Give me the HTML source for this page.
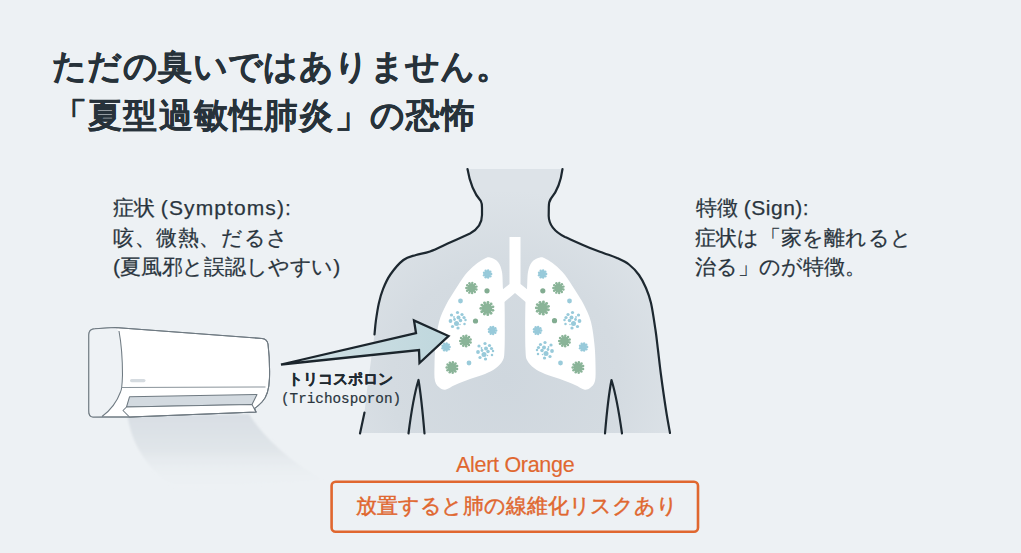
<!DOCTYPE html>
<html><head><meta charset="utf-8">
<style>
html,body{margin:0;padding:0}
body{width:1021px;height:553px;overflow:hidden;position:relative;background:#EDF1F4;font-family:"Liberation Sans",sans-serif;color:#2A353E}
.t{position:absolute;white-space:nowrap;line-height:1}
</style></head><body>
<svg width="1021" height="553" viewBox="0 0 1021 553" style="position:absolute;left:0;top:0">
<defs>
<radialGradient id="bodyg" gradientUnits="userSpaceOnUse" cx="505" cy="380" r="190"><stop offset="0" stop-color="#CFD7DE"/><stop offset="0.6" stop-color="#D4DBE1"/><stop offset="1" stop-color="#DDE3E8"/></radialGradient>
<linearGradient id="arrowg" x1="0" y1="0" x2="1" y2="0">
<stop offset="0" stop-color="#D3E2E6"/><stop offset="1" stop-color="#BFD7DD"/>
</linearGradient>
<linearGradient id="airg" x1="0" y1="0" x2="0" y2="1">
<stop offset="0" stop-color="#D8DEE4"/><stop offset="0.45" stop-color="#E0E5E9"/><stop offset="1" stop-color="#EDF1F4" stop-opacity="0"/>
</linearGradient>
<filter id="blur1" x="-20%" y="-20%" width="140%" height="140%"><feGaussianBlur stdDeviation="1.2"/></filter>
</defs>
<path d="M127.5 416 C132 445 148 472 180 490 L322 480 C292 462 265 440 249 414 Z" fill="url(#airg)" filter="url(#blur1)"/>
<path d="M467.5 169 Q471 190 480.8 201 Q482 203 482 208 L482 215 Q482 227 470 233.5 C466.67 235.00 456.67 239.50 450.00 242.50 C443.33 245.50 435.67 249.42 430.00 251.50 C424.33 253.58 420.43 253.58 416.00 255.00 C411.57 256.42 407.67 256.75 403.40 260.00 C399.13 263.25 393.78 269.68 390.40 274.50 C387.02 279.32 385.03 284.08 383.10 288.90 C381.17 293.72 380.00 298.10 378.80 303.40 C377.60 308.70 376.62 315.52 375.90 320.70 C375.18 325.88 374.73 332.20 374.50 334.50 L367 390 L364.5 412.5 L360 433 L670 433 C669.33 429.17 667.50 419.67 666.00 410.00 C664.50 400.33 662.33 385.00 661.00 375.00 C659.67 365.00 658.92 357.50 658.00 350.00 C657.08 342.50 656.67 337.83 655.50 330.00 C654.33 322.17 652.58 310.00 651.00 303.00 C649.42 296.00 648.00 292.67 646.00 288.00 C644.00 283.33 641.83 278.92 639.00 275.00 C636.17 271.08 632.67 267.33 629.00 264.50 C625.33 261.67 621.17 259.88 617.00 258.00 C612.83 256.12 608.50 254.87 604.00 253.20 C599.50 251.53 596.50 250.70 590.00 248.00 C583.50 245.30 569.17 238.83 565.00 237.00 Q549 229 548.7 216 L548.8 207 Q548.8 201.5 551 198.5 Q560 188 562.5 169 Z" fill="url(#bodyg)"/>
<path d="M509.5 237 L520.5 237 L520.5 284 L528 290 L528 304 L515 293 L502 304 L502 290 L509.5 284 Z" fill="#fff"/>
<path d="M490.00 257.50 C492.33 258.00 496.00 259.58 498.00 262.00 C500.00 264.42 501.17 267.50 502.00 272.00 C502.83 276.50 502.58 284.00 503.00 289.00 C503.42 294.00 504.20 295.17 504.50 302.00 C504.80 308.83 504.80 322.00 504.80 330.00 C504.80 338.00 504.80 345.00 504.50 350.00 C504.20 355.00 504.42 357.00 503.00 360.00 C501.58 363.00 499.00 365.67 496.00 368.00 C493.00 370.33 489.33 372.17 485.00 374.00 C480.67 375.83 475.00 377.17 470.00 379.00 C465.00 380.83 459.00 383.25 455.00 385.00 C451.00 386.75 448.50 389.00 446.00 389.50 C443.50 390.00 441.83 389.42 440.00 388.00 C438.17 386.58 435.92 384.83 435.00 381.00 C434.08 377.17 434.42 371.00 434.50 365.00 C434.58 359.00 434.75 352.17 435.50 345.00 C436.25 337.83 437.25 328.67 439.00 322.00 C440.75 315.33 443.33 310.33 446.00 305.00 C448.67 299.67 451.83 295.00 455.00 290.00 C458.17 285.00 461.67 279.17 465.00 275.00 C468.33 270.83 471.83 267.67 475.00 265.00 C478.17 262.33 481.50 260.25 484.00 259.00 C486.50 257.75 487.67 257.00 490.00 257.50 Z" fill="#fff"/>
<path d="M490.00 257.50 C492.33 258.00 496.00 259.58 498.00 262.00 C500.00 264.42 501.17 267.50 502.00 272.00 C502.83 276.50 502.58 284.00 503.00 289.00 C503.42 294.00 504.20 295.17 504.50 302.00 C504.80 308.83 504.80 322.00 504.80 330.00 C504.80 338.00 504.80 345.00 504.50 350.00 C504.20 355.00 504.42 357.00 503.00 360.00 C501.58 363.00 499.00 365.67 496.00 368.00 C493.00 370.33 489.33 372.17 485.00 374.00 C480.67 375.83 475.00 377.17 470.00 379.00 C465.00 380.83 459.00 383.25 455.00 385.00 C451.00 386.75 448.50 389.00 446.00 389.50 C443.50 390.00 441.83 389.42 440.00 388.00 C438.17 386.58 435.92 384.83 435.00 381.00 C434.08 377.17 434.42 371.00 434.50 365.00 C434.58 359.00 434.75 352.17 435.50 345.00 C436.25 337.83 437.25 328.67 439.00 322.00 C440.75 315.33 443.33 310.33 446.00 305.00 C448.67 299.67 451.83 295.00 455.00 290.00 C458.17 285.00 461.67 279.17 465.00 275.00 C468.33 270.83 471.83 267.67 475.00 265.00 C478.17 262.33 481.50 260.25 484.00 259.00 C486.50 257.75 487.67 257.00 490.00 257.50 Z" fill="#fff" transform="translate(1030 0) scale(-1 1)"/>
<g fill="#98CADA"><circle cx="487.50" cy="274.00" r="3.13"/><line x1="489.80" y1="274.00" x2="491.18" y2="274.00" stroke="#98CADA" stroke-width="1.38"/><circle cx="491.18" cy="274.00" r="1.20"/><line x1="489.26" y1="275.48" x2="490.32" y2="276.37" stroke="#98CADA" stroke-width="1.38"/><circle cx="490.32" cy="276.37" r="1.20"/><line x1="487.90" y1="276.27" x2="488.14" y2="277.62" stroke="#98CADA" stroke-width="1.38"/><circle cx="488.14" cy="277.62" r="1.20"/><line x1="486.35" y1="275.99" x2="485.66" y2="277.19" stroke="#98CADA" stroke-width="1.38"/><circle cx="485.66" cy="277.19" r="1.20"/><line x1="485.34" y1="274.79" x2="484.04" y2="275.26" stroke="#98CADA" stroke-width="1.38"/><circle cx="484.04" cy="275.26" r="1.20"/><line x1="485.34" y1="273.21" x2="484.04" y2="272.74" stroke="#98CADA" stroke-width="1.38"/><circle cx="484.04" cy="272.74" r="1.20"/><line x1="486.35" y1="272.01" x2="485.66" y2="270.81" stroke="#98CADA" stroke-width="1.38"/><circle cx="485.66" cy="270.81" r="1.20"/><line x1="487.90" y1="271.73" x2="488.14" y2="270.38" stroke="#98CADA" stroke-width="1.38"/><circle cx="488.14" cy="270.38" r="1.20"/><line x1="489.26" y1="272.52" x2="490.32" y2="271.63" stroke="#98CADA" stroke-width="1.38"/><circle cx="490.32" cy="271.63" r="1.20"/></g><g fill="#98CADA"><circle cx="492.50" cy="330.50" r="3.13"/><line x1="494.80" y1="330.50" x2="496.18" y2="330.50" stroke="#98CADA" stroke-width="1.38"/><circle cx="496.18" cy="330.50" r="1.20"/><line x1="494.26" y1="331.98" x2="495.32" y2="332.87" stroke="#98CADA" stroke-width="1.38"/><circle cx="495.32" cy="332.87" r="1.20"/><line x1="492.90" y1="332.77" x2="493.14" y2="334.12" stroke="#98CADA" stroke-width="1.38"/><circle cx="493.14" cy="334.12" r="1.20"/><line x1="491.35" y1="332.49" x2="490.66" y2="333.69" stroke="#98CADA" stroke-width="1.38"/><circle cx="490.66" cy="333.69" r="1.20"/><line x1="490.34" y1="331.29" x2="489.04" y2="331.76" stroke="#98CADA" stroke-width="1.38"/><circle cx="489.04" cy="331.76" r="1.20"/><line x1="490.34" y1="329.71" x2="489.04" y2="329.24" stroke="#98CADA" stroke-width="1.38"/><circle cx="489.04" cy="329.24" r="1.20"/><line x1="491.35" y1="328.51" x2="490.66" y2="327.31" stroke="#98CADA" stroke-width="1.38"/><circle cx="490.66" cy="327.31" r="1.20"/><line x1="492.90" y1="328.23" x2="493.14" y2="326.88" stroke="#98CADA" stroke-width="1.38"/><circle cx="493.14" cy="326.88" r="1.20"/><line x1="494.26" y1="329.02" x2="495.32" y2="328.13" stroke="#98CADA" stroke-width="1.38"/><circle cx="495.32" cy="328.13" r="1.20"/></g><g fill="#98CADA"><circle cx="446.00" cy="347.00" r="3.13"/><line x1="448.30" y1="347.00" x2="449.68" y2="347.00" stroke="#98CADA" stroke-width="1.38"/><circle cx="449.68" cy="347.00" r="1.20"/><line x1="447.76" y1="348.48" x2="448.82" y2="349.37" stroke="#98CADA" stroke-width="1.38"/><circle cx="448.82" cy="349.37" r="1.20"/><line x1="446.40" y1="349.27" x2="446.64" y2="350.62" stroke="#98CADA" stroke-width="1.38"/><circle cx="446.64" cy="350.62" r="1.20"/><line x1="444.85" y1="348.99" x2="444.16" y2="350.19" stroke="#98CADA" stroke-width="1.38"/><circle cx="444.16" cy="350.19" r="1.20"/><line x1="443.84" y1="347.79" x2="442.54" y2="348.26" stroke="#98CADA" stroke-width="1.38"/><circle cx="442.54" cy="348.26" r="1.20"/><line x1="443.84" y1="346.21" x2="442.54" y2="345.74" stroke="#98CADA" stroke-width="1.38"/><circle cx="442.54" cy="345.74" r="1.20"/><line x1="444.85" y1="345.01" x2="444.16" y2="343.81" stroke="#98CADA" stroke-width="1.38"/><circle cx="444.16" cy="343.81" r="1.20"/><line x1="446.40" y1="344.73" x2="446.64" y2="343.38" stroke="#98CADA" stroke-width="1.38"/><circle cx="446.64" cy="343.38" r="1.20"/><line x1="447.76" y1="345.52" x2="448.82" y2="344.63" stroke="#98CADA" stroke-width="1.38"/><circle cx="448.82" cy="344.63" r="1.20"/></g><g fill="#8AB498"><circle cx="471.50" cy="288.00" r="4.32"/><line x1="474.37" y1="288.89" x2="476.43" y2="289.52" stroke="#8AB498" stroke-width="1.56"/><circle cx="476.43" cy="289.52" r="1.20"/><line x1="473.43" y1="290.30" x2="474.82" y2="291.95" stroke="#8AB498" stroke-width="1.56"/><circle cx="474.82" cy="291.95" r="1.20"/><line x1="471.88" y1="290.98" x2="472.16" y2="293.12" stroke="#8AB498" stroke-width="1.56"/><circle cx="472.16" cy="293.12" r="1.20"/><line x1="470.21" y1="290.71" x2="469.29" y2="292.66" stroke="#8AB498" stroke-width="1.56"/><circle cx="469.29" cy="292.66" r="1.20"/><line x1="468.95" y1="289.59" x2="467.12" y2="290.73" stroke="#8AB498" stroke-width="1.56"/><circle cx="467.12" cy="290.73" r="1.20"/><line x1="468.50" y1="287.96" x2="466.34" y2="287.93" stroke="#8AB498" stroke-width="1.56"/><circle cx="466.34" cy="287.93" r="1.20"/><line x1="469.00" y1="286.34" x2="467.20" y2="285.15" stroke="#8AB498" stroke-width="1.56"/><circle cx="467.20" cy="285.15" r="1.20"/><line x1="470.29" y1="285.25" x2="469.42" y2="283.28" stroke="#8AB498" stroke-width="1.56"/><circle cx="469.42" cy="283.28" r="1.20"/><line x1="471.97" y1="285.04" x2="472.31" y2="282.90" stroke="#8AB498" stroke-width="1.56"/><circle cx="472.31" cy="282.90" r="1.20"/><line x1="473.50" y1="285.76" x2="474.93" y2="284.15" stroke="#8AB498" stroke-width="1.56"/><circle cx="474.93" cy="284.15" r="1.20"/><line x1="474.39" y1="287.20" x2="476.47" y2="286.62" stroke="#8AB498" stroke-width="1.56"/><circle cx="476.47" cy="286.62" r="1.20"/></g><g fill="#8AB498"><circle cx="487.00" cy="308.50" r="5.18"/><line x1="490.44" y1="309.56" x2="492.92" y2="310.33" stroke="#8AB498" stroke-width="1.87"/><circle cx="492.92" cy="310.33" r="1.44"/><line x1="489.32" y1="311.25" x2="490.99" y2="313.24" stroke="#8AB498" stroke-width="1.87"/><circle cx="490.99" cy="313.24" r="1.44"/><line x1="487.46" y1="312.07" x2="487.79" y2="314.64" stroke="#8AB498" stroke-width="1.87"/><circle cx="487.79" cy="314.64" r="1.44"/><line x1="485.46" y1="311.75" x2="484.35" y2="314.09" stroke="#8AB498" stroke-width="1.87"/><circle cx="484.35" cy="314.09" r="1.44"/><line x1="483.94" y1="310.40" x2="481.74" y2="311.77" stroke="#8AB498" stroke-width="1.87"/><circle cx="481.74" cy="311.77" r="1.44"/><line x1="483.40" y1="308.45" x2="480.81" y2="308.41" stroke="#8AB498" stroke-width="1.87"/><circle cx="480.81" cy="308.41" r="1.44"/><line x1="484.00" y1="306.51" x2="481.84" y2="305.08" stroke="#8AB498" stroke-width="1.87"/><circle cx="481.84" cy="305.08" r="1.44"/><line x1="485.55" y1="305.20" x2="484.51" y2="302.83" stroke="#8AB498" stroke-width="1.87"/><circle cx="484.51" cy="302.83" r="1.44"/><line x1="487.56" y1="304.94" x2="487.97" y2="302.38" stroke="#8AB498" stroke-width="1.87"/><circle cx="487.97" cy="302.38" r="1.44"/><line x1="489.40" y1="305.81" x2="491.12" y2="303.88" stroke="#8AB498" stroke-width="1.87"/><circle cx="491.12" cy="303.88" r="1.44"/><line x1="490.47" y1="307.54" x2="492.97" y2="306.84" stroke="#8AB498" stroke-width="1.87"/><circle cx="492.97" cy="306.84" r="1.44"/></g><g fill="#8AB498"><circle cx="465.50" cy="341.00" r="4.46"/><line x1="468.46" y1="341.92" x2="470.59" y2="342.58" stroke="#8AB498" stroke-width="1.61"/><circle cx="470.59" cy="342.58" r="1.24"/><line x1="467.50" y1="343.37" x2="468.93" y2="345.08" stroke="#8AB498" stroke-width="1.61"/><circle cx="468.93" cy="345.08" r="1.24"/><line x1="465.90" y1="344.07" x2="466.18" y2="346.29" stroke="#8AB498" stroke-width="1.61"/><circle cx="466.18" cy="346.29" r="1.24"/><line x1="464.17" y1="343.80" x2="463.22" y2="345.82" stroke="#8AB498" stroke-width="1.61"/><circle cx="463.22" cy="345.82" r="1.24"/><line x1="462.87" y1="342.64" x2="460.97" y2="343.82" stroke="#8AB498" stroke-width="1.61"/><circle cx="460.97" cy="343.82" r="1.24"/><line x1="462.40" y1="340.96" x2="460.17" y2="340.92" stroke="#8AB498" stroke-width="1.61"/><circle cx="460.17" cy="340.92" r="1.24"/><line x1="462.92" y1="339.29" x2="461.06" y2="338.05" stroke="#8AB498" stroke-width="1.61"/><circle cx="461.06" cy="338.05" r="1.24"/><line x1="464.25" y1="338.16" x2="463.36" y2="336.12" stroke="#8AB498" stroke-width="1.61"/><circle cx="463.36" cy="336.12" r="1.24"/><line x1="465.99" y1="337.94" x2="466.33" y2="335.73" stroke="#8AB498" stroke-width="1.61"/><circle cx="466.33" cy="335.73" r="1.24"/><line x1="467.56" y1="338.69" x2="469.05" y2="337.02" stroke="#8AB498" stroke-width="1.61"/><circle cx="469.05" cy="337.02" r="1.24"/><line x1="468.49" y1="340.17" x2="470.64" y2="339.57" stroke="#8AB498" stroke-width="1.61"/><circle cx="470.64" cy="339.57" r="1.24"/></g><g fill="#8AB498"><circle cx="452.00" cy="367.50" r="4.46"/><line x1="454.96" y1="368.42" x2="457.09" y2="369.08" stroke="#8AB498" stroke-width="1.61"/><circle cx="457.09" cy="369.08" r="1.24"/><line x1="454.00" y1="369.87" x2="455.43" y2="371.58" stroke="#8AB498" stroke-width="1.61"/><circle cx="455.43" cy="371.58" r="1.24"/><line x1="452.40" y1="370.57" x2="452.68" y2="372.79" stroke="#8AB498" stroke-width="1.61"/><circle cx="452.68" cy="372.79" r="1.24"/><line x1="450.67" y1="370.30" x2="449.72" y2="372.32" stroke="#8AB498" stroke-width="1.61"/><circle cx="449.72" cy="372.32" r="1.24"/><line x1="449.37" y1="369.14" x2="447.47" y2="370.32" stroke="#8AB498" stroke-width="1.61"/><circle cx="447.47" cy="370.32" r="1.24"/><line x1="448.90" y1="367.46" x2="446.67" y2="367.42" stroke="#8AB498" stroke-width="1.61"/><circle cx="446.67" cy="367.42" r="1.24"/><line x1="449.42" y1="365.79" x2="447.56" y2="364.55" stroke="#8AB498" stroke-width="1.61"/><circle cx="447.56" cy="364.55" r="1.24"/><line x1="450.75" y1="364.66" x2="449.86" y2="362.62" stroke="#8AB498" stroke-width="1.61"/><circle cx="449.86" cy="362.62" r="1.24"/><line x1="452.49" y1="364.44" x2="452.83" y2="362.23" stroke="#8AB498" stroke-width="1.61"/><circle cx="452.83" cy="362.23" r="1.24"/><line x1="454.06" y1="365.19" x2="455.55" y2="363.52" stroke="#8AB498" stroke-width="1.61"/><circle cx="455.55" cy="363.52" r="1.24"/><line x1="454.99" y1="366.67" x2="457.14" y2="366.07" stroke="#8AB498" stroke-width="1.61"/><circle cx="457.14" cy="366.07" r="1.24"/></g><circle cx="487" cy="290.8" r="2.6" fill="#82AC91"/><circle cx="475.5" cy="321" r="2.6" fill="#82AC91"/><circle cx="460.5" cy="301" r="2.4" fill="#9ACBDA"/><circle cx="469" cy="363" r="2.4" fill="#9ACBDA"/><g fill="#98CADA"><circle cx="457.50" cy="312.50" r="1.62"/><circle cx="451.50" cy="315.00" r="1.62"/><circle cx="462.00" cy="314.50" r="1.62"/><circle cx="458.50" cy="317.50" r="2.00"/><circle cx="464.00" cy="317.50" r="1.62"/><circle cx="454.50" cy="319.50" r="1.38"/><circle cx="460.50" cy="320.50" r="1.75"/><circle cx="450.50" cy="321.00" r="1.88"/><circle cx="465.50" cy="320.00" r="1.25"/><circle cx="456.50" cy="323.50" r="2.50"/><circle cx="464.50" cy="324.00" r="1.25"/><circle cx="452.50" cy="326.50" r="1.62"/><circle cx="458.00" cy="328.00" r="1.62"/><circle cx="460.00" cy="324.50" r="0.75"/><circle cx="454.00" cy="317.00" r="0.88"/></g><g fill="#98CADA"><circle cx="485.00" cy="343.50" r="1.62"/><circle cx="479.00" cy="346.00" r="1.62"/><circle cx="489.50" cy="345.50" r="1.62"/><circle cx="486.00" cy="348.50" r="2.00"/><circle cx="491.50" cy="348.50" r="1.62"/><circle cx="482.00" cy="350.50" r="1.38"/><circle cx="488.00" cy="351.50" r="1.75"/><circle cx="478.00" cy="352.00" r="1.88"/><circle cx="493.00" cy="351.00" r="1.25"/><circle cx="484.00" cy="354.50" r="2.50"/><circle cx="492.00" cy="355.00" r="1.25"/><circle cx="480.00" cy="357.50" r="1.62"/><circle cx="485.50" cy="359.00" r="1.62"/><circle cx="487.50" cy="355.50" r="0.75"/><circle cx="481.50" cy="348.00" r="0.88"/></g><g fill="#98CADA"><circle cx="542.50" cy="274.00" r="3.13"/><line x1="544.80" y1="274.00" x2="546.18" y2="274.00" stroke="#98CADA" stroke-width="1.38"/><circle cx="546.18" cy="274.00" r="1.20"/><line x1="544.26" y1="275.48" x2="545.32" y2="276.37" stroke="#98CADA" stroke-width="1.38"/><circle cx="545.32" cy="276.37" r="1.20"/><line x1="542.90" y1="276.27" x2="543.14" y2="277.62" stroke="#98CADA" stroke-width="1.38"/><circle cx="543.14" cy="277.62" r="1.20"/><line x1="541.35" y1="275.99" x2="540.66" y2="277.19" stroke="#98CADA" stroke-width="1.38"/><circle cx="540.66" cy="277.19" r="1.20"/><line x1="540.34" y1="274.79" x2="539.04" y2="275.26" stroke="#98CADA" stroke-width="1.38"/><circle cx="539.04" cy="275.26" r="1.20"/><line x1="540.34" y1="273.21" x2="539.04" y2="272.74" stroke="#98CADA" stroke-width="1.38"/><circle cx="539.04" cy="272.74" r="1.20"/><line x1="541.35" y1="272.01" x2="540.66" y2="270.81" stroke="#98CADA" stroke-width="1.38"/><circle cx="540.66" cy="270.81" r="1.20"/><line x1="542.90" y1="271.73" x2="543.14" y2="270.38" stroke="#98CADA" stroke-width="1.38"/><circle cx="543.14" cy="270.38" r="1.20"/><line x1="544.26" y1="272.52" x2="545.32" y2="271.63" stroke="#98CADA" stroke-width="1.38"/><circle cx="545.32" cy="271.63" r="1.20"/></g><g fill="#98CADA"><circle cx="537.50" cy="330.50" r="3.13"/><line x1="539.80" y1="330.50" x2="541.18" y2="330.50" stroke="#98CADA" stroke-width="1.38"/><circle cx="541.18" cy="330.50" r="1.20"/><line x1="539.26" y1="331.98" x2="540.32" y2="332.87" stroke="#98CADA" stroke-width="1.38"/><circle cx="540.32" cy="332.87" r="1.20"/><line x1="537.90" y1="332.77" x2="538.14" y2="334.12" stroke="#98CADA" stroke-width="1.38"/><circle cx="538.14" cy="334.12" r="1.20"/><line x1="536.35" y1="332.49" x2="535.66" y2="333.69" stroke="#98CADA" stroke-width="1.38"/><circle cx="535.66" cy="333.69" r="1.20"/><line x1="535.34" y1="331.29" x2="534.04" y2="331.76" stroke="#98CADA" stroke-width="1.38"/><circle cx="534.04" cy="331.76" r="1.20"/><line x1="535.34" y1="329.71" x2="534.04" y2="329.24" stroke="#98CADA" stroke-width="1.38"/><circle cx="534.04" cy="329.24" r="1.20"/><line x1="536.35" y1="328.51" x2="535.66" y2="327.31" stroke="#98CADA" stroke-width="1.38"/><circle cx="535.66" cy="327.31" r="1.20"/><line x1="537.90" y1="328.23" x2="538.14" y2="326.88" stroke="#98CADA" stroke-width="1.38"/><circle cx="538.14" cy="326.88" r="1.20"/><line x1="539.26" y1="329.02" x2="540.32" y2="328.13" stroke="#98CADA" stroke-width="1.38"/><circle cx="540.32" cy="328.13" r="1.20"/></g><g fill="#98CADA"><circle cx="583.50" cy="347.00" r="3.13"/><line x1="585.80" y1="347.00" x2="587.18" y2="347.00" stroke="#98CADA" stroke-width="1.38"/><circle cx="587.18" cy="347.00" r="1.20"/><line x1="585.26" y1="348.48" x2="586.32" y2="349.37" stroke="#98CADA" stroke-width="1.38"/><circle cx="586.32" cy="349.37" r="1.20"/><line x1="583.90" y1="349.27" x2="584.14" y2="350.62" stroke="#98CADA" stroke-width="1.38"/><circle cx="584.14" cy="350.62" r="1.20"/><line x1="582.35" y1="348.99" x2="581.66" y2="350.19" stroke="#98CADA" stroke-width="1.38"/><circle cx="581.66" cy="350.19" r="1.20"/><line x1="581.34" y1="347.79" x2="580.04" y2="348.26" stroke="#98CADA" stroke-width="1.38"/><circle cx="580.04" cy="348.26" r="1.20"/><line x1="581.34" y1="346.21" x2="580.04" y2="345.74" stroke="#98CADA" stroke-width="1.38"/><circle cx="580.04" cy="345.74" r="1.20"/><line x1="582.35" y1="345.01" x2="581.66" y2="343.81" stroke="#98CADA" stroke-width="1.38"/><circle cx="581.66" cy="343.81" r="1.20"/><line x1="583.90" y1="344.73" x2="584.14" y2="343.38" stroke="#98CADA" stroke-width="1.38"/><circle cx="584.14" cy="343.38" r="1.20"/><line x1="585.26" y1="345.52" x2="586.32" y2="344.63" stroke="#98CADA" stroke-width="1.38"/><circle cx="586.32" cy="344.63" r="1.20"/></g><g fill="#8AB498"><circle cx="558.50" cy="288.00" r="4.32"/><line x1="561.37" y1="288.89" x2="563.43" y2="289.52" stroke="#8AB498" stroke-width="1.56"/><circle cx="563.43" cy="289.52" r="1.20"/><line x1="560.43" y1="290.30" x2="561.82" y2="291.95" stroke="#8AB498" stroke-width="1.56"/><circle cx="561.82" cy="291.95" r="1.20"/><line x1="558.88" y1="290.98" x2="559.16" y2="293.12" stroke="#8AB498" stroke-width="1.56"/><circle cx="559.16" cy="293.12" r="1.20"/><line x1="557.21" y1="290.71" x2="556.29" y2="292.66" stroke="#8AB498" stroke-width="1.56"/><circle cx="556.29" cy="292.66" r="1.20"/><line x1="555.95" y1="289.59" x2="554.12" y2="290.73" stroke="#8AB498" stroke-width="1.56"/><circle cx="554.12" cy="290.73" r="1.20"/><line x1="555.50" y1="287.96" x2="553.34" y2="287.93" stroke="#8AB498" stroke-width="1.56"/><circle cx="553.34" cy="287.93" r="1.20"/><line x1="556.00" y1="286.34" x2="554.20" y2="285.15" stroke="#8AB498" stroke-width="1.56"/><circle cx="554.20" cy="285.15" r="1.20"/><line x1="557.29" y1="285.25" x2="556.42" y2="283.28" stroke="#8AB498" stroke-width="1.56"/><circle cx="556.42" cy="283.28" r="1.20"/><line x1="558.97" y1="285.04" x2="559.31" y2="282.90" stroke="#8AB498" stroke-width="1.56"/><circle cx="559.31" cy="282.90" r="1.20"/><line x1="560.50" y1="285.76" x2="561.93" y2="284.15" stroke="#8AB498" stroke-width="1.56"/><circle cx="561.93" cy="284.15" r="1.20"/><line x1="561.39" y1="287.20" x2="563.47" y2="286.62" stroke="#8AB498" stroke-width="1.56"/><circle cx="563.47" cy="286.62" r="1.20"/></g><g fill="#8AB498"><circle cx="542.50" cy="308.00" r="5.18"/><line x1="545.94" y1="309.06" x2="548.42" y2="309.83" stroke="#8AB498" stroke-width="1.87"/><circle cx="548.42" cy="309.83" r="1.44"/><line x1="544.82" y1="310.75" x2="546.49" y2="312.74" stroke="#8AB498" stroke-width="1.87"/><circle cx="546.49" cy="312.74" r="1.44"/><line x1="542.96" y1="311.57" x2="543.29" y2="314.14" stroke="#8AB498" stroke-width="1.87"/><circle cx="543.29" cy="314.14" r="1.44"/><line x1="540.96" y1="311.25" x2="539.85" y2="313.59" stroke="#8AB498" stroke-width="1.87"/><circle cx="539.85" cy="313.59" r="1.44"/><line x1="539.44" y1="309.90" x2="537.24" y2="311.27" stroke="#8AB498" stroke-width="1.87"/><circle cx="537.24" cy="311.27" r="1.44"/><line x1="538.90" y1="307.95" x2="536.31" y2="307.91" stroke="#8AB498" stroke-width="1.87"/><circle cx="536.31" cy="307.91" r="1.44"/><line x1="539.50" y1="306.01" x2="537.34" y2="304.58" stroke="#8AB498" stroke-width="1.87"/><circle cx="537.34" cy="304.58" r="1.44"/><line x1="541.05" y1="304.70" x2="540.01" y2="302.33" stroke="#8AB498" stroke-width="1.87"/><circle cx="540.01" cy="302.33" r="1.44"/><line x1="543.06" y1="304.44" x2="543.47" y2="301.88" stroke="#8AB498" stroke-width="1.87"/><circle cx="543.47" cy="301.88" r="1.44"/><line x1="544.90" y1="305.31" x2="546.62" y2="303.38" stroke="#8AB498" stroke-width="1.87"/><circle cx="546.62" cy="303.38" r="1.44"/><line x1="545.97" y1="307.04" x2="548.47" y2="306.34" stroke="#8AB498" stroke-width="1.87"/><circle cx="548.47" cy="306.34" r="1.44"/></g><g fill="#8AB498"><circle cx="564.50" cy="341.00" r="4.46"/><line x1="567.46" y1="341.92" x2="569.59" y2="342.58" stroke="#8AB498" stroke-width="1.61"/><circle cx="569.59" cy="342.58" r="1.24"/><line x1="566.50" y1="343.37" x2="567.93" y2="345.08" stroke="#8AB498" stroke-width="1.61"/><circle cx="567.93" cy="345.08" r="1.24"/><line x1="564.90" y1="344.07" x2="565.18" y2="346.29" stroke="#8AB498" stroke-width="1.61"/><circle cx="565.18" cy="346.29" r="1.24"/><line x1="563.17" y1="343.80" x2="562.22" y2="345.82" stroke="#8AB498" stroke-width="1.61"/><circle cx="562.22" cy="345.82" r="1.24"/><line x1="561.87" y1="342.64" x2="559.97" y2="343.82" stroke="#8AB498" stroke-width="1.61"/><circle cx="559.97" cy="343.82" r="1.24"/><line x1="561.40" y1="340.96" x2="559.17" y2="340.92" stroke="#8AB498" stroke-width="1.61"/><circle cx="559.17" cy="340.92" r="1.24"/><line x1="561.92" y1="339.29" x2="560.06" y2="338.05" stroke="#8AB498" stroke-width="1.61"/><circle cx="560.06" cy="338.05" r="1.24"/><line x1="563.25" y1="338.16" x2="562.36" y2="336.12" stroke="#8AB498" stroke-width="1.61"/><circle cx="562.36" cy="336.12" r="1.24"/><line x1="564.99" y1="337.94" x2="565.33" y2="335.73" stroke="#8AB498" stroke-width="1.61"/><circle cx="565.33" cy="335.73" r="1.24"/><line x1="566.56" y1="338.69" x2="568.05" y2="337.02" stroke="#8AB498" stroke-width="1.61"/><circle cx="568.05" cy="337.02" r="1.24"/><line x1="567.49" y1="340.17" x2="569.64" y2="339.57" stroke="#8AB498" stroke-width="1.61"/><circle cx="569.64" cy="339.57" r="1.24"/></g><g fill="#8AB498"><circle cx="578.00" cy="367.50" r="4.46"/><line x1="580.96" y1="368.42" x2="583.09" y2="369.08" stroke="#8AB498" stroke-width="1.61"/><circle cx="583.09" cy="369.08" r="1.24"/><line x1="580.00" y1="369.87" x2="581.43" y2="371.58" stroke="#8AB498" stroke-width="1.61"/><circle cx="581.43" cy="371.58" r="1.24"/><line x1="578.40" y1="370.57" x2="578.68" y2="372.79" stroke="#8AB498" stroke-width="1.61"/><circle cx="578.68" cy="372.79" r="1.24"/><line x1="576.67" y1="370.30" x2="575.72" y2="372.32" stroke="#8AB498" stroke-width="1.61"/><circle cx="575.72" cy="372.32" r="1.24"/><line x1="575.37" y1="369.14" x2="573.47" y2="370.32" stroke="#8AB498" stroke-width="1.61"/><circle cx="573.47" cy="370.32" r="1.24"/><line x1="574.90" y1="367.46" x2="572.67" y2="367.42" stroke="#8AB498" stroke-width="1.61"/><circle cx="572.67" cy="367.42" r="1.24"/><line x1="575.42" y1="365.79" x2="573.56" y2="364.55" stroke="#8AB498" stroke-width="1.61"/><circle cx="573.56" cy="364.55" r="1.24"/><line x1="576.75" y1="364.66" x2="575.86" y2="362.62" stroke="#8AB498" stroke-width="1.61"/><circle cx="575.86" cy="362.62" r="1.24"/><line x1="578.49" y1="364.44" x2="578.83" y2="362.23" stroke="#8AB498" stroke-width="1.61"/><circle cx="578.83" cy="362.23" r="1.24"/><line x1="580.06" y1="365.19" x2="581.55" y2="363.52" stroke="#8AB498" stroke-width="1.61"/><circle cx="581.55" cy="363.52" r="1.24"/><line x1="580.99" y1="366.67" x2="583.14" y2="366.07" stroke="#8AB498" stroke-width="1.61"/><circle cx="583.14" cy="366.07" r="1.24"/></g><circle cx="542.8" cy="290.8" r="2.6" fill="#82AC91"/><circle cx="554.5" cy="320.7" r="2.6" fill="#82AC91"/><circle cx="569.5" cy="301" r="2.4" fill="#9ACBDA"/><circle cx="560.5" cy="363" r="2.4" fill="#9ACBDA"/><g fill="#98CADA"><circle cx="572.50" cy="312.50" r="1.62"/><circle cx="578.50" cy="315.00" r="1.62"/><circle cx="568.00" cy="314.50" r="1.62"/><circle cx="571.50" cy="317.50" r="2.00"/><circle cx="566.00" cy="317.50" r="1.62"/><circle cx="575.50" cy="319.50" r="1.38"/><circle cx="569.50" cy="320.50" r="1.75"/><circle cx="579.50" cy="321.00" r="1.88"/><circle cx="564.50" cy="320.00" r="1.25"/><circle cx="573.50" cy="323.50" r="2.50"/><circle cx="565.50" cy="324.00" r="1.25"/><circle cx="577.50" cy="326.50" r="1.62"/><circle cx="572.00" cy="328.00" r="1.62"/><circle cx="570.00" cy="324.50" r="0.75"/><circle cx="576.00" cy="317.00" r="0.88"/></g><g fill="#98CADA"><circle cx="545.00" cy="342.50" r="1.62"/><circle cx="551.00" cy="345.00" r="1.62"/><circle cx="540.50" cy="344.50" r="1.62"/><circle cx="544.00" cy="347.50" r="2.00"/><circle cx="538.50" cy="347.50" r="1.62"/><circle cx="548.00" cy="349.50" r="1.38"/><circle cx="542.00" cy="350.50" r="1.75"/><circle cx="552.00" cy="351.00" r="1.88"/><circle cx="537.00" cy="350.00" r="1.25"/><circle cx="546.00" cy="353.50" r="2.50"/><circle cx="538.00" cy="354.00" r="1.25"/><circle cx="550.00" cy="356.50" r="1.62"/><circle cx="544.50" cy="358.00" r="1.62"/><circle cx="542.50" cy="354.50" r="0.75"/><circle cx="548.50" cy="347.00" r="0.88"/></g>
<g fill="none" stroke="#1D2830" stroke-width="2.2" stroke-linecap="round" stroke-linejoin="round">
<path d="M467.5 169 Q471 190 480.8 201 Q482 203 482 208 L482 215 Q482 227 470 233.5 C466.67 235.00 456.67 239.50 450.00 242.50 C443.33 245.50 435.67 249.42 430.00 251.50 C424.33 253.58 420.43 253.58 416.00 255.00 C411.57 256.42 407.67 256.75 403.40 260.00 C399.13 263.25 393.78 269.68 390.40 274.50 C387.02 279.32 385.03 284.08 383.10 288.90 C381.17 293.72 380.00 298.10 378.80 303.40 C377.60 308.70 376.62 315.52 375.90 320.70 C375.18 325.88 374.73 332.20 374.50 334.50"/><path d="M562.5 169 Q560 188 551 198.5 Q548.8 201.5 548.8 207 L548.7 216 Q549 229 565 237 C569.17 238.83 583.50 245.30 590.00 248.00 C596.50 250.70 599.50 251.53 604.00 253.20 C608.50 254.87 612.83 256.12 617.00 258.00 C621.17 259.88 625.33 261.67 629.00 264.50 C632.67 267.33 636.17 271.08 639.00 275.00 C641.83 278.92 644.00 283.33 646.00 288.00 C648.00 292.67 649.42 296.00 651.00 303.00 C652.58 310.00 654.33 322.17 655.50 330.00 C656.67 337.83 657.08 342.50 658.00 350.00 C658.92 357.50 659.67 365.00 661.00 375.00 C662.33 385.00 664.50 400.33 666.00 410.00 C667.50 419.67 669.33 429.17 670.00 433.00"/><path d="M364.5 412.5 L360 433.5"/><path d="M408.5 433.5 Q413 398 418.5 380 Q421.5 398 424.5 433.5"/><path d="M605 433.5 Q608 398 611.5 380 Q617 398 622 433.5"/>
</g>
<path d="M281 364.5 L416 333 L414 320.5 L448.5 336 L419.5 363 L419 350 Z" fill="url(#arrowg)" stroke="#1B252C" stroke-width="2.3" stroke-linejoin="miter"/>
<g stroke="#6F7A82" stroke-width="1.05" stroke-linejoin="round">
<path d="M88.8 335 Q88.8 329 95 328.8 L115 327.5 L262 338.5 Q267 339 268 344 Q270 360 269.5 378 Q269 395 262 402 Q257 407 254.5 408.5 L256 412 L130 417 L93 417 Q88.8 417 88.8 411 Z" fill="#FFFFFF"/>
<path d="M88.8 335 Q88.8 329 95 328.8 L115 327.5 L119 331 Q122.5 350 122.5 375 Q122 390 120.5 392 Q115 407 102 416.5 L93 417 Q88.8 417 88.8 411 Z" fill="#EEF2F5" stroke="none"/>
<path d="M119 331 Q122.5 350 122.5 375 Q122 390 120.5 392 Q115 407 102 416.5" fill="none"/>
<path d="M121.5 387.5 L265.5 387" fill="none" stroke="#8A949B"/>
<path d="M129.5 396.8 L257 394.5 L252 404.5 L126.5 407 Z" fill="#D3DAE0"/>
<path d="M126.5 407 L252 404.5 L256 412 L129.5 417 L123 410.5 Z" fill="#FFFFFF"/>
</g>
<path d="M88.8 335 Q88.8 329 95 328.8 L115 327.5 L262 338.5 Q267 339 268 344 Q270 360 269.5 378 Q269 395 262 402 Q257 407 254.5 408.5 L256 412 L130 417 L93 417 Q88.8 417 88.8 411 Z" fill="none" stroke="#6F7A82" stroke-width="1.05"/>
<rect x="130" y="379" width="15.5" height="3.2" rx="1.6" fill="#D5DBE0"/>
<rect x="331.6" y="481.8" width="366.4" height="50" rx="4" fill="none" stroke="#E0672F" stroke-width="2.6"/>
</svg>
<div class="t" id="h1" style="left:52px;top:48.5px;font-size:34px;font-weight:bold;letter-spacing:0.4px;color:#27323A;-webkit-text-stroke:0.25px #27323A">ただの臭いではありません。</div>
<div class="t" id="h2" style="left:53px;top:98px;font-size:34px;font-weight:bold;letter-spacing:1.2px;color:#27323A;-webkit-text-stroke:0.2px #27323A">「夏型過敏性肺炎」の恐怖</div>
<div class="t" id="s1" style="left:113px;top:197.3px;font-size:21px;-webkit-text-stroke:0.25px #2A353E">症状 <span style="letter-spacing:1.1px">(Symptoms):</span></div>
<div class="t" id="s2" style="left:113px;top:227.3px;font-size:21px;letter-spacing:0.6px;-webkit-text-stroke:0.25px #2A353E">咳、微熱、だるさ</div>
<div class="t" id="s3" style="left:113px;top:256.3px;font-size:21px;letter-spacing:-0.15px;-webkit-text-stroke:0.25px #2A353E">(夏風邪と誤認しやすい)</div>
<div class="t" id="g1" style="left:696px;top:197px;font-size:21px;-webkit-text-stroke:0.25px #2A353E">特徴 <span style="letter-spacing:0.5px">(Sign):</span></div>
<div class="t" id="g2" style="left:695px;top:227px;font-size:21px;letter-spacing:0.2px;-webkit-text-stroke:0.25px #2A353E">症状は「家を離れると</div>
<div class="t" id="g3" style="left:695px;top:256px;font-size:21px;-webkit-text-stroke:0.25px #2A353E">治る」のが特徴。</div>
<div class="t" id="tr1" style="left:287.5px;top:370.5px;font-size:15px;font-weight:bold;letter-spacing:0px;color:#1F2A31;-webkit-text-stroke:0.3px #1F2A31">トリコスポロン</div>
<div class="t" id="tr2" style="left:281px;top:391.5px;font-size:14.3px;font-family:'Liberation Mono',monospace;color:#2A353E;-webkit-text-stroke:0.2px #2A353E">(Trichosporon)</div>
<div class="t" id="ao" style="left:456px;top:455px;font-size:21.5px;letter-spacing:-0.3px;color:#E0672F;-webkit-text-stroke:0.15px #E0672F">Alert Orange</div>
<div class="t" id="bx" style="left:356px;top:495px;font-size:21px;letter-spacing:-0.14px;color:#E0672F;-webkit-text-stroke:0.45px #E0672F">放置すると肺の線維化リスクあり</div>
</body></html>
